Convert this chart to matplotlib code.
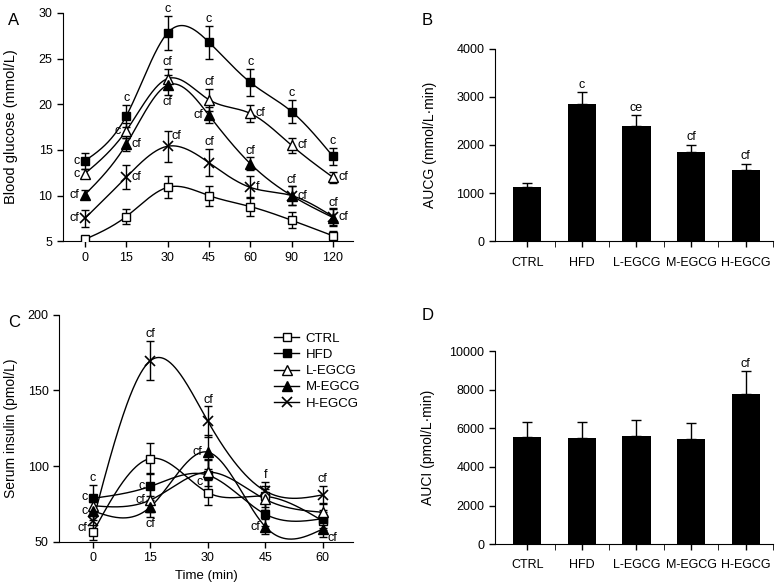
import numpy as np
import matplotlib.pyplot as plt

plt.rcParams['font.family'] = ['Liberation Sans', 'DejaVu Sans']
plt.rcParams['font.size'] = 9

groups = ['CTRL', 'HFD', 'L-EGCG', 'M-EGCG', 'H-EGCG']

# A: blood glucose (mmol/L), mean and SD
glu_time = ['0', '15', '30', '45', '60', '90', '120']
glu_ctrl = [5.2, 7.7, 10.9, 10.0, 8.8, 7.3, 5.6]
glu_hfd = [13.8, 18.7, 27.8, 26.8, 22.4, 19.2, 14.3]
glu_l = [12.4, 17.1, 22.8, 20.5, 19.0, 15.5, 12.0]
glu_m = [10.1, 15.6, 22.1, 18.8, 13.5, 10.0, 7.6]
glu_h = [7.5, 12.0, 15.4, 13.6, 10.9, 10.0, 7.7]
glu_ctrl_sd = [0.3, 0.8, 1.2, 1.1, 1.0, 0.9, 0.5]
glu_hfd_sd = [0.9, 1.2, 1.9, 1.8, 1.5, 1.3, 0.9]
glu_l_sd = [0.5, 0.8, 1.1, 1.2, 0.9, 0.8, 0.6]
glu_m_sd = [0.5, 0.7, 1.1, 0.9, 0.7, 1.0, 0.9]
glu_h_sd = [0.9, 1.3, 1.7, 1.5, 1.2, 1.0, 0.9]

# significance letters, one per time point ('' = none)
glu_hfd_sig = ['c', 'c', 'c', 'c', 'c', 'c', 'c']
glu_l_sig = ['c', 'c', 'cf', 'cf', 'cf', 'cf', 'cf']
glu_m_sig = ['cf', 'cf', 'cf', 'cf', 'cf', 'cf', 'cf']
glu_h_sig = ['cf', 'cf', 'cf', 'cf', 'f', 'cf', 'cf']

# B: AUC glucose
aucg = [1120, 2850, 2390, 1850, 1490]
aucg_sd = [95, 245, 230, 160, 125]
aucg_sig = ['', 'c', 'ce', 'cf', 'cf']

# C: serum insulin (pmol/L)
ins_time = ['0', '15', '30', '45', '60']
ins_ctrl = [56.3, 105.0, 82.5, 80.0, 63.7]
ins_hfd = [78.7, 86.6, 94.0, 68.2, 65.3]
ins_l = [73.8, 77.6, 96.0, 78.0, 69.5]
ins_m = [70.4, 73.1, 109.2, 59.9, 58.5]
ins_h = [63.7, 169.6, 129.5, 83.5, 81.0]
ins_ctrl_sd = [5, 10, 8, 7, 6]
ins_hfd_sd = [9, 9, 10, 8, 6]
ins_l_sd = [6, 8, 9, 7, 6]
ins_m_sd = [6, 7, 11, 5, 5]
ins_h_sd = [7, 13, 10, 6, 6]
ins_hfd_sig = ['c', 'c', 'c', '', '']
ins_l_sig = ['c', 'cf', '', '', '']
ins_m_sig = ['c', 'cf', 'cf', 'cf', 'cf']
ins_h_sig = ['cf', 'cf', 'cf', 'f', 'cf']

# D: AUC insulin
auci = [5530, 5490, 5610, 5460, 7800]
auci_sd = [810, 810, 810, 810, 1160]
auci_sig = ['', '', '', '', 'cf']

styles = {
    'CTRL': dict(marker='s', mfc='white', ms=6),
    'HFD': dict(marker='s', mfc='black', ms=6),
    'L-EGCG': dict(marker='^', mfc='white', ms=6.5),
    'M-EGCG': dict(marker='^', mfc='black', ms=6.5),
    'H-EGCG': dict(marker='x', mfc='black', ms=6.5, mew=1.2),
}

# where each letter sits relative to its point: (dx, dy) in points, ha, va, anchor
offsets = {
    'above': ((0, 0.5), 'center', 'bottom', 'top'),
    'below': ((0, -0.5), 'center', 'top', 'bottom'),
    'left': ((-4, 0), 'right', 'center', 'mid'),
    'upleft': ((-4, 6), 'right', 'center', 'mid'),
    'downleft': ((-4, -5), 'right', 'center', 'mid'),
    'right': ((4, 0), 'left', 'center', 'mid'),
    'upright': ((3, 3), 'left', 'bottom', 'mid'),
    'downright': ((3, -1), 'left', 'center', 'bottom'),
}


def natural_spline(x, y, num=300):
    x = np.asarray(x, float)
    y = np.asarray(y, float)
    n = len(x)
    h = np.diff(x)
    A = np.zeros((n, n))
    b = np.zeros(n)
    A[0, 0] = A[-1, -1] = 1
    for i in range(1, n - 1):
        A[i, i - 1] = h[i - 1]
        A[i, i] = 2 * (h[i - 1] + h[i])
        A[i, i + 1] = h[i]
        b[i] = 6 * ((y[i + 1] - y[i]) / h[i] - (y[i] - y[i - 1]) / h[i - 1])
    M = np.linalg.solve(A, b)
    xs = np.linspace(x[0], x[-1], num)
    k = np.clip(np.searchsorted(x, xs) - 1, 0, n - 2)
    t0 = x[k + 1] - xs
    t1 = xs - x[k]
    hk = h[k]
    ys = (M[k] * t0 ** 3 + M[k + 1] * t1 ** 3) / (6 * hk) \
        + (y[k] / hk - M[k] * hk / 6) * t0 + (y[k + 1] / hk - M[k + 1] * hk / 6) * t1
    return xs, ys


def put_label(ax, x, y, err, text, where):
    if not text or not where:
        return
    off, ha, va, anchor = offsets[where]
    yy = {'top': y + err, 'bottom': y - err, 'mid': y}[anchor]
    ax.annotate(text, (x, yy), xytext=off, textcoords='offset points', ha=ha, va=va)


def curve_panel(ax, means, sds, names):
    for name, m, s in zip(names, means, sds):
        xi = np.arange(len(m))
        xs, ys = natural_spline(xi, m)
        ax.plot(xs, ys, color='black', lw=1, zorder=2)
        ax.errorbar(xi, m, yerr=s, fmt='none', ecolor='black', elinewidth=1,
                    capsize=2.8, capthick=1, zorder=3)
        ax.plot(xi, m, ls='none', color='black', mec='black', zorder=4,
                **styles[name])


def style_axes(ax):
    for side in ['top', 'right']:
        ax.spines[side].set_visible(False)
    ax.tick_params(direction='out', length=4, width=1)


def bar_panel(ax, vals, sds, sig):
    xi = np.arange(len(vals))
    ax.bar(xi, vals, width=0.52, color='black')
    ax.errorbar(xi, vals, yerr=[np.zeros(len(sds)), sds], fmt='none',
                ecolor='black', elinewidth=1, capsize=3.6, capthick=1)
    for x, v, s, t in zip(xi, vals, sds, sig):
        if t:
            ax.annotate(t, (x, v + s), xytext=(0, 1), textcoords='offset points',
                        ha='center', va='bottom')
    ax.set_xticks(xi)
    ax.set_xticklabels(groups)
    ax.tick_params(axis='x', length=0, pad=7)
    ax.set_xticks(xi + 0.5, minor=True)
    ax.tick_params(axis='x', which='minor', length=4, direction='out')
    ax.set_xlim(-0.59, 4.5)


fig = plt.figure(figsize=(7.77, 5.87), dpi=100)

# ---- A
axA = fig.add_axes([0.081, 0.589, 0.373, 0.389])
glu_means = [glu_ctrl, glu_hfd, glu_l, glu_m, glu_h]
glu_sds = [glu_ctrl_sd, glu_hfd_sd, glu_l_sd, glu_m_sd, glu_h_sd]
curve_panel(axA, glu_means, glu_sds, groups)
pos_hfd = ['left', 'above', 'above', 'above', 'above', 'above', 'above']
pos_l = ['left', 'left', 'above', 'above', 'right', 'right', 'right']
pos_m = ['left', 'right', 'below', 'left', 'above', 'above', 'above']
pos_h = ['left', 'right', 'upright', 'above', 'right', 'right', 'right']
for m, s, sig, pos in [(glu_hfd, glu_hfd_sd, glu_hfd_sig, pos_hfd),
                       (glu_l, glu_l_sd, glu_l_sig, pos_l),
                       (glu_m, glu_m_sd, glu_m_sig, pos_m),
                       (glu_h, glu_h_sd, glu_h_sig, pos_h)]:
    for i in range(len(m)):
        put_label(axA, i, m[i], s[i], sig[i], pos[i])
axA.set_xticks(range(len(glu_time)))
axA.set_xticklabels(glu_time)
axA.set_xlim(-0.53, 6.48)
axA.set_ylim(5, 30)
axA.set_yticks([5, 10, 15, 20, 25, 30])
axA.set_ylabel('Blood glucose (mmol/L)', fontsize=10.5)
axA.yaxis.set_label_coords(-0.155, 0.5)
style_axes(axA)

# ---- B
axB = fig.add_axes([0.637, 0.589, 0.358, 0.328])
bar_panel(axB, aucg, aucg_sd, aucg_sig)
axB.set_ylim(0, 4000)
axB.set_yticks([0, 1000, 2000, 3000, 4000])
axB.set_ylabel('AUCG (mmol/L\u00b7min)', fontsize=10)
axB.yaxis.set_label_coords(-0.21, 0.5)
style_axes(axB)

# ---- C
axC = fig.add_axes([0.076, 0.077, 0.378, 0.387])
ins_means = [ins_ctrl, ins_hfd, ins_l, ins_m, ins_h]
ins_sds = [ins_ctrl_sd, ins_hfd_sd, ins_l_sd, ins_m_sd, ins_h_sd]
curve_panel(axC, ins_means, ins_sds, groups)
cpos_hfd = ['above', 'left', 'downleft', '', '']
cpos_l = ['upleft', 'left', '', '', '']
cpos_m = ['left', 'below', 'left', 'left', 'downright']
cpos_h = ['downleft', 'above', 'above', 'above', 'above']
for m, s, sig, pos in [(ins_hfd, ins_hfd_sd, ins_hfd_sig, cpos_hfd),
                       (ins_l, ins_l_sd, ins_l_sig, cpos_l),
                       (ins_m, ins_m_sd, ins_m_sig, cpos_m),
                       (ins_h, ins_h_sd, ins_h_sig, cpos_h)]:
    for i in range(len(m)):
        put_label(axC, i, m[i], s[i], sig[i], pos[i])
axC.set_xticks(range(len(ins_time)))
axC.set_xticklabels(ins_time)
axC.set_xlim(-0.59, 4.52)
axC.set_ylim(50, 200)
axC.set_yticks([50, 100, 150, 200])
axC.set_ylabel('Serum insulin (pmol/L)', fontsize=10)
axC.yaxis.set_label_coords(-0.14, 0.5)
axC.set_xlabel('Time (min)', fontsize=9.5)
handles = [plt.Line2D([], [], color='black', lw=1, mec='black', **styles[g]) for g in groups]
axC.legend(handles, groups, loc='upper left', bbox_to_anchor=(0.71, 0.95), frameon=False,
           fontsize=9.5, handlelength=1.9, handletextpad=0.5, labelspacing=0.3, borderpad=0)
style_axes(axC)

# ---- D
axD = fig.add_axes([0.637, 0.073, 0.358, 0.329])
bar_panel(axD, auci, auci_sd, auci_sig)
axD.set_ylim(0, 10000)
axD.set_yticks([0, 2000, 4000, 6000, 8000, 10000])
axD.set_ylabel('AUCI (pmol/L\u00b7min)', fontsize=10)
axD.yaxis.set_label_coords(-0.216, 0.5)
style_axes(axD)

# panel letters
for letter, x, y in [('A', 0.01, 0.978), ('B', 0.542, 0.978), ('C', 0.01, 0.463), ('D', 0.542, 0.475)]:
    fig.text(x, y, letter, fontsize=12, ha='left', va='top')

fig.savefig('out.png', dpi=100)
